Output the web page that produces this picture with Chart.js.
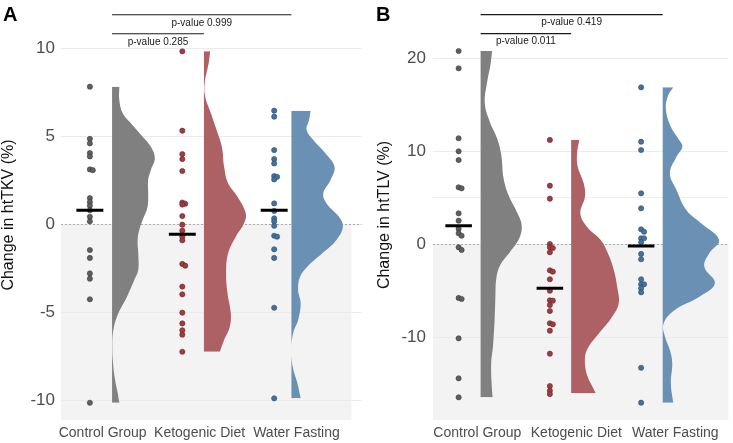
<!DOCTYPE html>
<html lang="en">
<head>
<meta charset="UTF-8">
<title>Change in htTKV and htTLV</title>
<style>
  body { margin: 0; background: #fff; }
  .wrap { position: relative; width: 733px; height: 443px; overflow: hidden; }
  .panel { position: absolute; top: 0; height: 443px; }
  #panelA { left: 0; width: 366px; }
  #panelB { left: 366px; width: 367px; }
</style>
</head>
<body>
<div class="wrap">
  <div class="panel" id="panelA"><canvas id="chartA" width="366" height="443"></canvas></div>
  <div class="panel" id="panelB"><canvas id="chartB" width="367" height="443"></canvas></div>
</div>

<script src="https://cdn.jsdelivr.net/npm/chart.js"></script>
<script>
// categories and axis ticks
const groups = ['Control Group', 'Ketogenic Diet', 'Water Fasting'];
const tkvTicks = [-10, -5, 0, 5, 10];
const tlvTicks = [-10, 0, 5, 10, 20];   // 5 is an unlabeled minor line

// panel A: change in htTKV (%) per subject
const tkvControl = [7.82, 4.86, 4.60, 4.05, 3.86, 3.12, 3.08, 1.49, 1.27, 1.06, 0.80, 0.43, 0.17, -1.46, -1.91, -2.79, -3.09, -4.26, -10.14];
const tkvKeto = [9.83, 5.32, 3.99, 3.71, 3.03, 1.24, 1.17, 1.12, 0.47, -0.02, -0.36, -0.70, -0.91, -2.25, -2.35, -3.54, -3.98, -5.02, -5.63, -6.02, -6.27, -7.24];
const tkvWater = [6.46, 6.12, 4.22, 3.71, 3.46, 2.74, 2.70, 2.55, 1.19, 0.76, 0.34, 0.17, -0.08, -0.65, -0.70, -1.42, -1.91, -4.74, -9.89];
const tkvMeans = [0.80, -0.57, 0.80];

// panel B: change in htTLV (%) per subject
const tlvControl = [20.78, 18.92, 11.40, 10.00, 9.06, 6.13, 6.02, 3.33, 2.54, 1.65, 1.18, 0.92, -0.32, -0.61, -5.77, -5.88, -10.11, -14.41, -16.45];
const tlvKeto = [11.22, 6.30, 4.91, 0.03, -0.32, -0.40, -0.86, -2.80, -2.94, -3.76, -4.99, -6.02, -6.06, -6.53, -7.17, -8.49, -8.60, -9.29, -11.76, -15.24, -15.74, -16.10];
const tlvWater = [16.88, 11.03, 10.14, 5.48, 3.87, 1.61, 1.35, 0.65, 0.65, 0.22, -1.04, -1.61, -3.76, -4.30, -4.30, -4.73, -5.16, -13.27, -17.03];
const tlvMeans = [2.00, -4.73, -0.18];

// half-violin outlines: [value, relative density]
const tkvControlViolin = [[7.82, 7.3], [7.06, 7.3], [6.31, 10.7], [5.74, 19], [4.98, 30.7], [4.41, 39], [3.75, 43], [3.09, 39], [2.52, 36.3], [1.76, 36.3], [1.0, 35.7], [0.24, 30.7], [-0.32, 27.3], [-0.89, 25.7], [-1.65, 26.3], [-2.6, 26.3], [-3.16, 22.3], [-4.11, 15], [-5.06, 6.3], [-6.0, 1.3], [-6.95, 0.3], [-7.9, 1], [-8.85, 3], [-9.6, 5.7], [-10.14, 7.3]];
const tkvKetoViolin = [[9.83, 6.3], [9.15, 4.7], [8.01, 0.7], [7.25, 1.3], [6.31, 7], [5.36, 12.7], [4.41, 18], [3.27, 20.3], [2.33, 24.3], [1.57, 33.7], [0.63, 42], [0.06, 40.3], [-0.70, 32], [-1.65, 24.3], [-2.78, 22.3], [-3.92, 23.7], [-5.06, 27], [-5.82, 26], [-6.57, 20.3], [-7.24, 16]];
const tkvWaterViolin = [[6.46, 19.3], [5.93, 17.7], [5.36, 15.3], [4.79, 22], [4.03, 34.3], [3.27, 43.3], [2.52, 39.3], [1.76, 32], [1.19, 35.3], [0.43, 47.7], [-0.13, 51.7], [-0.89, 45.3], [-1.65, 31], [-2.41, 16], [-2.98, 8.7], [-3.73, 6.7], [-4.49, 9.3], [-5.44, 6.7], [-6.19, 1.7], [-7.14, 0], [-8.09, 1.3], [-9.03, 6], [-9.89, 9.3]];
const tlvControlViolin = [[20.78, 11.7], [19.28, 10], [17.48, 6.7], [15.16, 4.3], [13.18, 9.3], [11.40, 16.7], [9.6, 21], [7.1, 23.3], [5.3, 28.3], [3.5, 36.7], [2.08, 41.7], [0.65, 39.3], [-0.8, 30], [-2.23, 20], [-3.66, 16], [-5.81, 15], [-7.96, 14.3], [-10.83, 12.7], [-12.98, 10.7], [-15.85, 11.7], [-16.45, 12.3]];
const tlvKetoViolin = [[11.22, 8.3], [9.78, 6], [8.34, 6.7], [6.56, 12.7], [5.12, 14], [3.33, 9.3], [1.89, 16], [0.46, 30], [-0.97, 37.3], [-2.76, 43.3], [-4.56, 46.7], [-6.34, 48.3], [-7.78, 41.7], [-9.57, 28.3], [-11.37, 16], [-12.8, 14], [-14.24, 16.7], [-15.31, 21.7], [-16.02, 25]];
const tlvWaterViolin = [[16.88, 10.7], [15.87, 5], [14.44, 3.3], [12.65, 8.3], [11.22, 16.7], [10.5, 20], [9.42, 14], [7.63, 7.3], [5.84, 14], [3.69, 24], [2.26, 39], [0.46, 57.3], [-0.97, 47.3], [-2.41, 42.3], [-4.19, 53], [-5.63, 37.3], [-7.06, 12.3], [-8.49, 1], [-9.94, 2.3], [-11.37, 7.3], [-12.8, 9.7], [-14.95, 8.3], [-17.03, 10.7]];

// comparisons vs. control group: [other group index, p-value]
const tkvPValues = [[1, '0.285'], [2, '0.999']];
const tlvPValues = [[1, '0.011'], [2, '0.419']];

Chart.defaults.font.family = "'Liberation Sans', Arial, Helvetica, sans-serif";

const violinColors = ['#808080', '#ad6165', '#6a90b4'];
const dotColors = ['#5f5f5f', '#9d3d42', '#45719c'];
const dotBorders = ['#3c3c3c', '#68272b', '#2c4d6e'];

// small sideways nudge for dots that would sit on top of each other
function placeDots(values, baseX, step, minGap) {
    const sorted = values.slice().sort((a, b) => b - a);
    let prev = null, shifted = false;
    return sorted.map(v => {
        let x = baseX;
        if (prev !== null && Math.abs(prev - v) < minGap && !shifted) {
            x = baseX + step;
            shifted = true;
        } else {
            shifted = false;
        }
        prev = v;
        return { x: x, y: v };
    });
}

const panelDecor = {
    id: 'panelDecor',
    beforeDraw(chart, args, opts) {
        const { ctx, chartArea, scales: { x, y } } = chart;
        const top = y.getPixelForValue(0);
        const right = x.getPixelForValue(opts.shadeRight);
        ctx.save();
        ctx.fillStyle = '#f3f3f3';
        ctx.fillRect(chartArea.left, top, right - chartArea.left, chartArea.bottom - top);
        ctx.restore();
    },
    beforeDatasetsDraw(chart) {
        const { ctx, chartArea, scales: { y } } = chart;
        const py = Math.round(y.getPixelForValue(0)) + 0.5;
        ctx.save();
        ctx.strokeStyle = '#9a9a9a';
        ctx.lineWidth = 0.8;
        ctx.setLineDash([2, 2]);
        ctx.beginPath();
        ctx.moveTo(chartArea.left, py);
        ctx.lineTo(chartArea.right, py);
        ctx.stroke();
        ctx.restore();
    },
    afterDraw(chart, args, opts) {
        const { ctx, scales: { x, y } } = chart;
        ctx.save();
        // p-value labels under each bracket
        ctx.font = "10px 'Liberation Sans', Arial, sans-serif";
        ctx.fillStyle = '#1a1a1a';
        ctx.textAlign = 'center';
        ctx.textBaseline = 'top';
        opts.brackets.forEach(b => {
            const px = (x.getPixelForValue(b.x0) + x.getPixelForValue(b.x1)) / 2;
            ctx.fillText('p-value ' + b.p, px, y.getPixelForValue(b.y) + 3);
        });
        // panel letter
        ctx.font = "bold 20px 'Liberation Sans', Arial, sans-serif";
        ctx.fillStyle = '#000';
        ctx.textAlign = 'left';
        ctx.textBaseline = 'alphabetic';
        ctx.fillText(opts.letter, opts.letterX, 21);
        ctx.restore();
    }
};

function makePanel(canvasId, p) {
    const datasets = [];
    p.violins.forEach((profile, i) => {
        datasets.push({
            data: profile.map(([v, w]) => ({ x: p.violinX[i] + w * p.widthScale, y: v })),
            fill: { value: p.violinX[i] },
            backgroundColor: violinColors[i],
            borderColor: 'rgba(0,0,0,0)',
            borderWidth: 1,
            pointRadius: 0,
            tension: 0.4,
            order: 4
        });
    });
    p.values.forEach((vals, i) => {
        datasets.push({
            data: placeDots(vals, p.dotX[i], p.nudge, p.minGap),
            showLine: false,
            pointRadius: 2.6,
            pointBorderWidth: 0.6,
            pointBackgroundColor: dotColors[i],
            pointBorderColor: dotBorders[i],
            order: 3
        });
    });
    p.means.forEach((m, i) => {
        datasets.push({
            data: [{ x: p.dotX[i] - p.meanHalf, y: m }, { x: p.dotX[i] + p.meanHalf, y: m }],
            borderColor: '#000',
            borderWidth: 3,
            pointRadius: 0,
            order: 2
        });
    });
    const brackets = p.pvalues.map(([g, pv], k) => ({
        x0: p.violinX[0], x1: p.violinX[g], y: p.bracketY[k], p: pv
    }));
    brackets.forEach(b => {
        datasets.push({
            data: [{ x: b.x0, y: b.y }, { x: b.x1, y: b.y }],
            borderColor: '#1a1a1a',
            borderWidth: 1.2,
            pointRadius: 0,
            order: 1
        });
    });

    new Chart(document.getElementById(canvasId), {
        type: 'line',
        data: { datasets: datasets },
        plugins: [panelDecor],
        options: {
            responsive: false,
            devicePixelRatio: 1,
            animation: false,
            indexAxis: 'y',
            layout: { padding: { top: 10, left: p.padLeft, right: p.padRight, bottom: 0 } },
            plugins: {
                legend: { display: false },
                tooltip: { enabled: false },
                panelDecor: { shadeRight: p.shadeRight, brackets: brackets, letter: p.letter, letterX: p.letterX }
            },
            scales: {
                x: {
                    type: 'linear',
                    min: p.xMin,
                    max: p.xMax,
                    grid: { display: false, drawTicks: false },
                    border: { display: false },
                    afterBuildTicks: s => { s.ticks = groups.map((g, i) => ({ value: i + 1 })); },
                    afterFit: s => { s.height = 23; s.paddingLeft = 0; s.paddingRight = 0; },
                    ticks: {
                        autoSkip: false,
                        maxRotation: 0,
                        padding: 5,
                        color: '#4d4d4d',
                        font: { size: 14 },
                        callback: v => groups[Math.round(v) - 1]
                    }
                },
                y: {
                    type: 'linear',
                    min: p.yMin,
                    max: p.yMax,
                    afterBuildTicks: s => { s.ticks = p.ticks.map(v => ({ value: v })); },
                    afterFit: s => { s.width = p.axisWidth; s.paddingTop = 0; s.paddingBottom = 0; },
                    grid: {
                        drawTicks: false,
                        lineWidth: 1,
                        color: c => (c.tick && p.minor.includes(c.tick.value)) ? '#f0f0f0' : '#ebebeb'
                    },
                    border: { display: false },
                    ticks: {
                        autoSkip: false,
                        padding: p.tickPad,
                        color: '#4d4d4d',
                        font: { size: 17 },
                        callback: v => p.minor.includes(v) ? '' : String(v)
                    },
                    title: {
                        display: true,
                        text: p.title,
                        color: '#111',
                        font: { size: 16, lineHeight: 1.05 },
                        padding: 0
                    }
                }
            }
        }
    });
}

makePanel('chartA', {
    letter: 'A', letterX: 3,
    title: 'Change in htTKV (%)',
    values: [tkvControl, tkvKeto, tkvWater],
    means: tkvMeans,
    violins: [tkvControlViolin, tkvKetoViolin, tkvWaterViolin],
    pvalues: tkvPValues,
    ticks: tkvTicks, minor: [],
    xMin: 0.57, xMax: 3.67, yMin: -11.12, yMax: 12.18,
    dotX: [0.868, 1.822, 2.770],
    violinX: [1.097, 2.045, 2.948],
    widthScale: 1 / 97.4,
    meanHalf: 0.139,
    nudge: 0.03, minGap: 0.15,
    bracketY: [10.83, 11.91],
    shadeRight: 3.567,
    axisWidth: 61, padLeft: 0, padRight: 3, tickPad: 6
});

makePanel('chartB', {
    letter: 'B', letterX: 10,
    title: 'Change in htTLV (%)',
    values: [tlvControl, tlvKeto, tlvWater],
    means: tlvMeans,
    violins: [tlvControlViolin, tlvKetoViolin, tlvWaterViolin],
    pvalues: tlvPValues,
    ticks: tlvTicks, minor: [5],
    xMin: 0.552, xMax: 3.537, yMin: -18.89, yMax: 25.19,
    dotX: [0.811, 1.733, 2.655],
    violinX: [1.033, 1.948, 2.873],
    widthScale: 1 / 100.5,
    meanHalf: 0.134,
    nudge: 0.03, minGap: 0.3,
    bracketY: [22.65, 24.69],
    shadeRight: 3.537,
    axisWidth: 57, padLeft: 10, padRight: 0, tickPad: 7
});
</script>
</body>
</html>
